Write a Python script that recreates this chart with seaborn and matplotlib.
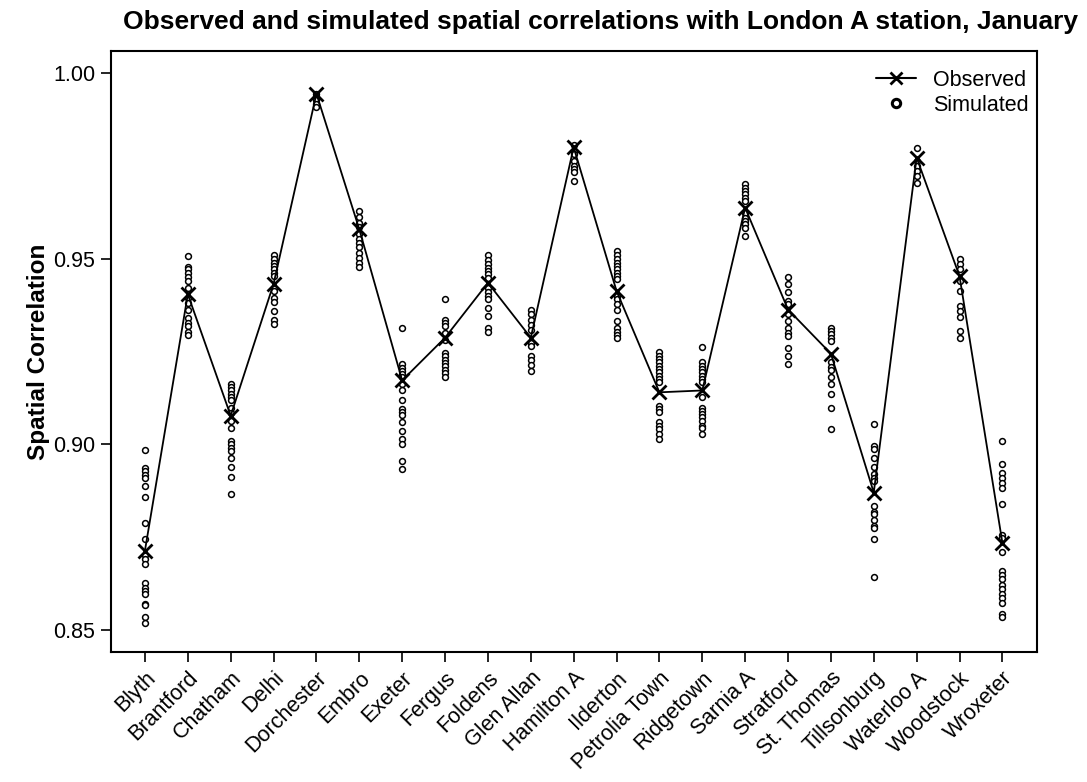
import numpy as np
import pandas as pd
import matplotlib
matplotlib.use("Agg")
import matplotlib.pyplot as plt
import seaborn as sns
from matplotlib.lines import Line2D

stations = ["Blyth", "Brantford", "Chatham", "Delhi", "Dorchester", "Embro", "Exeter",
            "Fergus", "Foldens", "Glen Allan", "Hamilton A", "Ilderton", "Petrolia Town",
            "Ridgetown", "Sarnia A", "Stratford", "St. Thomas", "Tillsonburg",
            "Waterloo A", "Woodstock", "Wroxeter"]

observed = [0.8714, 0.9404, 0.9077, 0.9432, 0.9944, 0.9579, 0.9172, 0.9287, 0.9435,
            0.9287, 0.9800, 0.9413, 0.9140, 0.9145, 0.9637, 0.9363, 0.9244, 0.8870,
            0.9772, 0.9453, 0.8735]

sim_blyth = [0.8985, 0.8935, 0.8927, 0.8917, 0.8910, 0.8888, 0.8859, 0.8789, 0.8744,
             0.8703, 0.8690, 0.8678, 0.8627, 0.8613, 0.8606, 0.8598, 0.8571, 0.8566,
             0.8534, 0.8520]
sim_brantford = [0.9507, 0.9478, 0.9471, 0.9461, 0.9451, 0.9440, 0.9420, 0.9393, 0.9381,
                 0.9363, 0.9341, 0.9327, 0.9318, 0.9303, 0.9294]
sim_chatham = [0.9163, 0.9154, 0.9145, 0.9136, 0.9127, 0.9118, 0.9099, 0.9085, 0.9064,
               0.9045, 0.9009, 0.9000, 0.8991, 0.8982, 0.8964, 0.8939, 0.8912, 0.8865]
sim_delhi = [0.9509, 0.9498, 0.9489, 0.9480, 0.9471, 0.9462, 0.9453, 0.9422, 0.9413,
             0.9393, 0.9384, 0.9360, 0.9336, 0.9323]
sim_dorchester = [0.9944, 0.9935, 0.9926, 0.9917, 0.9908]
sim_embro = [0.9629, 0.9611, 0.9597, 0.9584, 0.9566, 0.9552, 0.9541, 0.9530, 0.9516,
             0.9503, 0.9489, 0.9478]
sim_exeter = [0.9314, 0.9215, 0.9206, 0.9197, 0.9190, 0.9181, 0.9163, 0.9145, 0.9119,
              0.9095, 0.9086, 0.9080, 0.9059, 0.9035, 0.9014, 0.9002, 0.8955, 0.8933]
sim_fergus = [0.9390, 0.9336, 0.9327, 0.9318, 0.9300, 0.9280, 0.9246, 0.9237, 0.9228,
              0.9219, 0.9210, 0.9201, 0.9192, 0.9180]
sim_foldens = [0.9510, 0.9496, 0.9485, 0.9476, 0.9467, 0.9458, 0.9449, 0.9422, 0.9411,
               0.9399, 0.9390, 0.9368, 0.9345, 0.9314, 0.9303]
sim_glen_allan = [0.9363, 0.9350, 0.9336, 0.9322, 0.9309, 0.9273, 0.9264, 0.9237,
                  0.9228, 0.9214, 0.9198]
sim_hamilton = [0.9805, 0.9790, 0.9782, 0.9764, 0.9750, 0.9741, 0.9732, 0.9710]
sim_ilderton = [0.9521, 0.9510, 0.9498, 0.9489, 0.9480, 0.9471, 0.9462, 0.9453, 0.9444,
                0.9399, 0.9390, 0.9377, 0.9363, 0.9333, 0.9314, 0.9303, 0.9294, 0.9285]
sim_petrolia = [0.9248, 0.9239, 0.9230, 0.9221, 0.9212, 0.9203, 0.9194, 0.9185, 0.9176,
                0.9167, 0.9104, 0.9095, 0.9086, 0.9059, 0.9050, 0.9041, 0.9028, 0.9014]
sim_ridgetown = [0.9262, 0.9221, 0.9212, 0.9203, 0.9194, 0.9185, 0.9176, 0.9167, 0.9127,
                 0.9099, 0.9091, 0.9082, 0.9073, 0.9064, 0.9050, 0.9044, 0.9028]
sim_sarnia = [0.9700, 0.9691, 0.9682, 0.9673, 0.9664, 0.9655, 0.9624, 0.9610, 0.9601,
              0.9592, 0.9583, 0.9561]
sim_stratford = [0.9451, 0.9432, 0.9411, 0.9386, 0.9377, 0.9350, 0.9332, 0.9314, 0.9300,
                 0.9291, 0.9258, 0.9239, 0.9215]
sim_st_thomas = [0.9314, 0.9305, 0.9296, 0.9287, 0.9277, 0.9221, 0.9208, 0.9199, 0.9181,
                 0.9163, 0.9136, 0.9099, 0.9041]
sim_tillsonburg = [0.9055, 0.8996, 0.8987, 0.8963, 0.8939, 0.8919, 0.8910, 0.8901, 0.8834,
                   0.8818, 0.8811, 0.8796, 0.8780, 0.8775, 0.8745, 0.8642]
sim_waterloo = [0.9798, 0.9764, 0.9750, 0.9736, 0.9723, 0.9705]
sim_woodstock = [0.9498, 0.9485, 0.9471, 0.9440, 0.9413, 0.9372, 0.9359, 0.9342, 0.9306,
                 0.9287]
sim_wroxeter = [0.9008, 0.8948, 0.8924, 0.8910, 0.8897, 0.8881, 0.8838, 0.8757, 0.8748,
                0.8710, 0.8658, 0.8649, 0.8638, 0.8622, 0.8611, 0.8597, 0.8586, 0.8572,
                0.8543, 0.8534]

simulated = [sim_blyth, sim_brantford, sim_chatham, sim_delhi, sim_dorchester, sim_embro,
             sim_exeter, sim_fergus, sim_foldens, sim_glen_allan, sim_hamilton, sim_ilderton,
             sim_petrolia, sim_ridgetown, sim_sarnia, sim_stratford, sim_st_thomas,
             sim_tillsonburg, sim_waterloo, sim_woodstock, sim_wroxeter]

obs_df = pd.DataFrame({"station": stations, "corr": observed})
sim_df = pd.DataFrame({
    "station": [s for s, vals in zip(stations, simulated) for _ in vals],
    "corr": [v for vals in simulated for v in vals],
})

sns.set_theme(style="ticks")
plt.rcParams["font.family"] = ["Liberation Sans", "DejaVu Sans"]
plt.rcParams["text.color"] = "black"
plt.rcParams["axes.labelcolor"] = "black"
plt.rcParams["xtick.color"] = "black"
plt.rcParams["ytick.color"] = "black"

fig = plt.figure(figsize=(10.87, 7.82), dpi=100)
ax = fig.add_axes([0.1018, 0.1659, 0.8519, 0.7693])

sns.stripplot(data=sim_df, x="station", y="corr", order=stations, jitter=False,
              marker="o", size=4.2, color="white", edgecolor="black", linewidth=1.1,
              ax=ax, zorder=2)
sns.lineplot(data=obs_df, x="station", y="corr", sort=False, color="black",
             linewidth=1.3, marker="x", markersize=9.5, markeredgewidth=2.0,
             markeredgecolor="black", ax=ax, zorder=3)

ax.set_xlim(-0.8, 20.8)
ax.set_ylim(0.844, 1.006)
ax.set_yticks([0.85, 0.90, 0.95, 1.00])
ax.set_yticklabels(["0.85", "0.90", "0.95", "1.00"])
ax.set_xlabel("")
ax.set_ylabel("Spatial Correlation", fontsize=17.5, fontweight="bold", labelpad=2)
ax.tick_params(axis="both", direction="out", length=7, width=1.2, labelsize=15.5,
               colors="black", pad=4)
plt.setp(ax.get_xticklabels(), rotation=45, ha="right", rotation_mode="anchor")
for sp in ax.spines.values():
    sp.set_visible(True)
    sp.set_linewidth(1.5)
    sp.set_color("black")

handles = [
    Line2D([], [], color="black", linewidth=1.5, marker="x", markersize=8,
           markeredgewidth=2.0),
    Line2D([], [], linestyle="none", marker="o", markersize=6, markerfacecolor="white",
           markeredgecolor="black", markeredgewidth=2.2),
]
ax.legend(handles, ["Observed", "Simulated"], loc="upper right", frameon=False,
          fontsize=15.5, handlelength=1.85, borderaxespad=0.2, labelspacing=0.19,
          handletextpad=0.8, bbox_to_anchor=(1.005, 0.99))

fig.text(0.552, 0.972, "Observed and simulated spatial correlations with London A station, January",
         ha="center", va="center", fontsize=19, fontweight="bold")

fig.savefig("out.png", dpi=100)
